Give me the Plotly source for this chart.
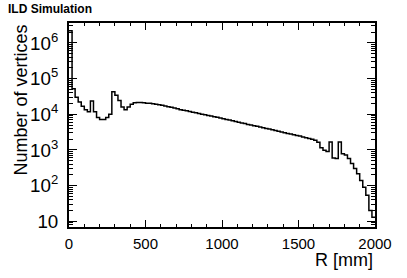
import plotly.graph_objects as go

# Histogram of vertex radius R [mm], 20 mm bins from 0 to 2000
bin_width = 20
bin_lower_edges = list(range(0, 2000, bin_width))

counts = [
    2200000, 52000, 30000, 22000, 16700, 13500, 11700, 23500, 11700, 8100,
    7200, 7200, 8100, 10000, 43000, 34000, 24500, 16000, 13500, 16000,
    19000, 21000, 21500, 21500, 21000, 20500, 20300, 19800, 19000, 18500,
    17800, 17000, 16300, 15800, 15000, 14200, 13500, 13000, 12600, 12000,
    11500, 11000, 10600, 10100, 9700, 9300, 8900, 8600, 8200, 7900,
    7500, 7200, 6900, 6600, 6300, 6000, 5700, 5500, 5200, 5000,
    4800, 4600, 4400, 4200, 4000, 3850, 3700, 3500, 3350, 3200,
    3050, 2900, 2800, 2650, 2550, 2450, 2300, 2200, 2100, 2000,
    1870, 1650, 1150, 980, 900, 1670, 600, 580, 1670, 780,
    720, 580, 420, 300, 215, 140, 90, 54, 20, 13,
]

x_title = "R [mm]"
y_title = "Number of vertices"
label = "ILD Simulation"

# step outline: each bin drawn from its lower edge, closed at the upper edge
xs = bin_lower_edges + [bin_lower_edges[-1] + bin_width]
ys = counts + [counts[-1]]

FONT = "Liberation Sans, Arial, Helvetica, sans-serif"

fig = go.Figure()
fig.add_trace(go.Scatter(
    x=xs, y=ys, mode="lines",
    line=dict(color="black", width=1.5, shape="hv"),
    showlegend=False, hoverinfo="skip",
))

fig.update_layout(
    width=407, height=278,
    margin=dict(l=69, r=32, t=23, b=51),
    paper_bgcolor="white", plot_bgcolor="white",
    font=dict(family=FONT, color="black"),
    showlegend=False,
)

fig.update_xaxes(
    range=[0, 2000],
    showgrid=False, zeroline=False,
    showline=True, linecolor="black", linewidth=1.5, mirror="ticks",
    ticks="inside", ticklen=7, tickwidth=1, tickcolor="black",
    tickvals=[0, 500, 1000, 1500, 2000],
    ticktext=["0", "500", "1000", "1500", "2000"],
    tickfont=dict(family=FONT, size=15, color="black"),
    ticklabelstandoff=2,
    minor=dict(ticks="inside", ticklen=3.5, tickwidth=1, tickcolor="black",
               dtick=100, showgrid=False),
)

fig.update_yaxes(
    type="log", range=[0.84, 6.56],
    showgrid=False, zeroline=False,
    showline=True, linecolor="black", linewidth=1.5, mirror="ticks",
    ticks="inside", ticklen=8, tickwidth=1, tickcolor="black",
    dtick=1, exponentformat="power",
    tickfont=dict(family=FONT, size=15, color="black"),
    ticklabelstandoff=6,
    minor=dict(ticks="inside", ticklen=4, tickwidth=1, tickcolor="black",
               dtick="D1", showgrid=False),
)

fig.add_annotation(
    text=y_title, textangle=-90, xref="paper", yref="paper",
    x=-0.16, y=1.0, xanchor="center", yanchor="top",
    showarrow=False, font=dict(family=FONT, size=18, color="black"),
)
fig.add_annotation(
    text=x_title, xref="paper", yref="paper",
    x=1.0, y=-0.16, xanchor="right", yanchor="middle",
    showarrow=False, font=dict(family=FONT, size=18, color="black"),
)
fig.add_annotation(
    text="<b>" + label + "</b>", xref="paper", yref="paper",
    x=-0.205, y=1.07, xanchor="left", yanchor="middle",
    showarrow=False, font=dict(family=FONT, size=12, color="black"),
)

# remove the browser's default 8px page margin so the figure sits at (0, 0)
fig.write_html(
    "out.html",
    config={"displayModeBar": False},
    post_script="document.body.style.margin='0';",
)
